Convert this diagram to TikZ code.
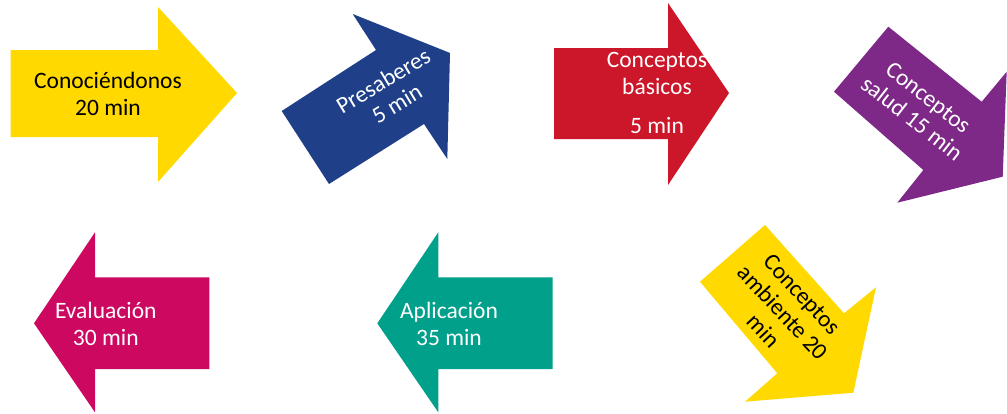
\documentclass[tikz,border=0pt]{standalone}
\usepackage{fontspec}
\setmainfont{Carlito}
\definecolor{cyellow}{RGB}{255,217,0}
\definecolor{cblue}{RGB}{31,64,137}
\definecolor{cred}{RGB}{204,22,41}
\definecolor{cpurple}{RGB}{126,41,135}
\definecolor{cpink}{RGB}{204,8,96}
\definecolor{cteal}{RGB}{0,160,138}
\tikzset{
  lbl/.style={inner sep=0pt, align=center, font=\fontsize{11.75}{13.3}\selectfont},
  wlbl/.style={lbl, text=white},
  blbl/.style={lbl, text=black}
}
\begin{document}
\begin{tikzpicture}[x=0.5pt, y=-0.5pt]
\useasboundingbox (0,0) rectangle (1007,413);
\fill[white] (0,0) rectangle (1007,413);
% 1 yellow right arrow
\fill[cyellow] (10.7,50) -- (158,50) -- (158,7) -- (237,93) -- (158,182) -- (158,137) -- (10.7,137) -- cycle;
\node[blbl] (conoc) at (108,94) {Conociéndonos\\20 min};
% 2 blue tilted arrow
\fill[cblue] (281.7,111) -- (376,50) -- (352.7,14) -- (450,53) -- (447.3,159) -- (424,124) -- (329,184) -- cycle;
\node[wlbl, rotate=31] (presab) at (390,92) {Presaberes\\5 min};
% 3 red right arrow
\fill[cred] (554,48) -- (668,48) -- (668,3) -- (729,93) -- (668,185) -- (668,139) -- (554,139) -- cycle;
\node[wlbl] (basicos) at (657,93) {Conceptos\\básicos\\[6.5pt]5 min};
% 4 purple arrow
\fill[cpurple] (888.3,26.7) -- (981.7,101.7) -- (1006.7,71.7) -- (1002.7,176.7) -- (897.3,202.7) -- (923.3,170) -- (834,91.7) -- cycle;
\node[wlbl, rotate=-38] (salud) at (920,108) {Conceptos\\salud 15 min};
% 5 yellow down arrow
\fill[cyellow] (765,225) -- (844,313.3) -- (876,287.3) -- (853.3,392.7) -- (745,401.7) -- (777.3,373.3) -- (700,281.7) -- cycle;
\node[blbl, rotate=-47] (ambiente) at (782.5,312.5) {Conceptos\\ambiente 20\\min};
% 6 pink left arrow
\fill[cpink] (34,323.3) -- (95,232.3) -- (95,277.3) -- (209.3,277.3) -- (209.3,369) -- (95,369) -- (95,412.3) -- cycle;
\node[wlbl] (evalua) at (105.8,324) {Evaluación\\30 min};
% 7 teal left arrow
\fill[cteal] (377.3,323.3) -- (438.3,232.3) -- (438.3,277.3) -- (552.7,277.3) -- (552.7,369) -- (438.3,369) -- (438.3,412.3) -- cycle;
\node[wlbl] (aplica) at (449,324) {Aplicación\\35 min};
\end{tikzpicture}
\end{document}
